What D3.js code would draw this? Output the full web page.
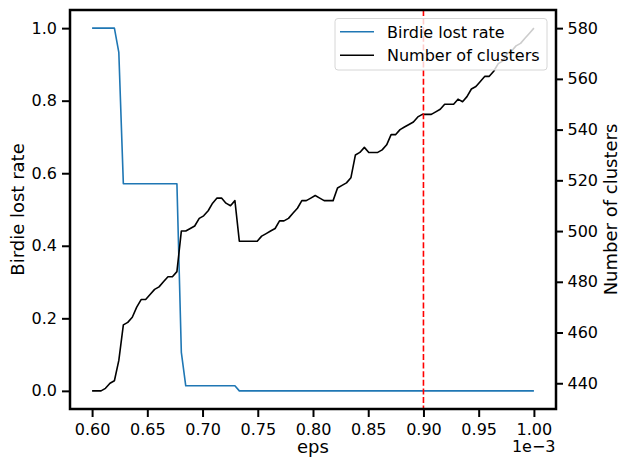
<!DOCTYPE html>
<html>
<head>
<meta charset="utf-8">
<script src="https://cdn.jsdelivr.net/npm/d3@7"></script>
<style>
  body { margin: 0; background: #fff; }
  text { font-family: "DejaVu Sans", sans-serif; fill: #000; }
</style>
</head>
<body>
<div id="chart"></div>
<script>
// eps values, in units of 1e-3
var eps = [
  0.6000, 0.6040, 0.6081, 0.6121, 0.6162, 0.6202, 0.6242, 0.6283, 0.6323, 0.6364,
  0.6404, 0.6444, 0.6485, 0.6525, 0.6566, 0.6606, 0.6646, 0.6687, 0.6727, 0.6768,
  0.6808, 0.6848, 0.6889, 0.6929, 0.6970, 0.7010, 0.7051, 0.7091, 0.7131, 0.7172,
  0.7212, 0.7253, 0.7293, 0.7333, 0.7374, 0.7414, 0.7455, 0.7495, 0.7535, 0.7576,
  0.7616, 0.7657, 0.7697, 0.7737, 0.7778, 0.7818, 0.7859, 0.7899, 0.7939, 0.7980,
  0.8020, 0.8061, 0.8101, 0.8141, 0.8182, 0.8222, 0.8263, 0.8303, 0.8343, 0.8384,
  0.8424, 0.8465, 0.8505, 0.8545, 0.8586, 0.8626, 0.8667, 0.8707, 0.8747, 0.8788,
  0.8828, 0.8869, 0.8909, 0.8949, 0.8990, 0.9030, 0.9071, 0.9111, 0.9152, 0.9192,
  0.9232, 0.9273, 0.9313, 0.9354, 0.9394, 0.9434, 0.9475, 0.9515, 0.9556, 0.9596,
  0.9636, 0.9677, 0.9717, 0.9758, 0.9798, 0.9838, 0.9879, 0.9919, 0.9960, 1.0000
]

var lostRate = [
  1, 1, 1, 1, 1, 1, 0.933, 0.571, 0.571, 0.571,
  0.571, 0.571, 0.571, 0.571, 0.571, 0.571, 0.571, 0.571, 0.571, 0.571,
  0.106, 0.014, 0.014, 0.014, 0.014, 0.014, 0.014, 0.014, 0.014, 0.014,
  0.014, 0.014, 0.014, 0, 0, 0, 0, 0, 0, 0,
  0, 0, 0, 0, 0, 0, 0, 0, 0, 0,
  0, 0, 0, 0, 0, 0, 0, 0, 0, 0,
  0, 0, 0, 0, 0, 0, 0, 0, 0, 0,
  0, 0, 0, 0, 0, 0, 0, 0, 0, 0,
  0, 0, 0, 0, 0, 0, 0, 0, 0, 0,
  0, 0, 0, 0, 0, 0, 0, 0, 0, 0
]

var clusters = [
  437, 437, 437, 438, 440, 441, 449, 463, 464, 466,
  470, 473, 473, 475, 477, 478, 480, 482, 482, 484,
  500, 500, 501, 502, 505, 506, 508, 511, 513, 513,
  511, 510, 512, 496, 496, 496, 496, 496, 498, 499,
  500, 501, 504, 504, 505, 507, 509, 512, 512, 513,
  514, 513, 512, 512, 512, 517, 518, 519, 521, 530,
  531, 533, 531, 531, 531, 532, 534, 538, 538, 540,
  541, 542, 543, 545, 546, 546, 546, 547, 548, 550,
  550, 550, 552, 551, 553, 556, 557, 559, 561, 561,
  563, 566, 567, 570, 571, 573, 574, 576, 578, 580
]

var xTicks = [0.60, 0.65, 0.70, 0.75, 0.80, 0.85, 0.90, 0.95, 1.00]
var leftTicks = [0.0, 0.2, 0.4, 0.6, 0.8, 1.0]
var rightTicks = [440, 460, 480, 500, 520, 540, 560, 580]
var chosenEps = 0.90
var legendNames = ["Birdie lost rate", "Number of clusters"]
var colors = ["#1f77b4", "#000000"]

// matplotlib style 5% margins around the data
function padded(ext) {
  var d = (ext[1] - ext[0]) * 0.05
  return [ext[0] - d, ext[1] + d]
}

const W = 620, H = 463
const box = { left: 70, right: 556, top: 10, bottom: 409 }

const svg = d3.select("#chart").append("svg")
  .attr("width", W)
  .attr("height", H)
  .style("font-size", "16px")

const x = d3.scaleLinear().domain(padded(d3.extent(eps))).range([box.left, box.right])
const yL = d3.scaleLinear().domain(padded([0, 1])).range([box.bottom, box.top])
const yR = d3.scaleLinear().domain(padded(d3.extent(clusters))).range([box.bottom, box.top])

// blue line
svg.append("path")
  .datum(lostRate)
  .attr("fill", "none")
  .attr("stroke", colors[0])
  .attr("stroke-width", 1.6)
  .attr("stroke-linejoin", "round")
  .attr("d", d3.line().x((d, i) => x(eps[i])).y(d => yL(d)))

// black line (twin axis)
svg.append("path")
  .datum(clusters)
  .attr("fill", "none")
  .attr("stroke", colors[1])
  .attr("stroke-width", 1.6)
  .attr("stroke-linejoin", "round")
  .attr("d", d3.line().x((d, i) => x(eps[i])).y(d => yR(d)))

// vertical marker
svg.append("line")
  .attr("x1", x(chosenEps)).attr("x2", x(chosenEps))
  .attr("y1", box.top).attr("y2", box.bottom)
  .attr("stroke", "#ff0000")
  .attr("stroke-width", 1.6)
  .attr("stroke-dasharray", "6,2.6")

// axes
function styleAxis(g) {
  g.select(".domain").remove()
  g.selectAll(".tick line").attr("stroke", "#000").attr("stroke-width", 2)
  g.selectAll(".tick text").style("font-size", "16px").attr("fill", "#000")
}

svg.append("g")
  .attr("transform", `translate(0,${box.bottom})`)
  .call(d3.axisBottom(x).tickValues(xTicks).tickFormat(d3.format(".2f")).tickSize(8).tickPadding(6.5))
  .call(styleAxis)

svg.append("g")
  .attr("transform", `translate(${box.left},0)`)
  .call(d3.axisLeft(yL).tickValues(leftTicks).tickFormat(d3.format(".1f")).tickSize(8).tickPadding(5))
  .call(styleAxis)

svg.append("g")
  .attr("transform", `translate(${box.right},0)`)
  .call(d3.axisRight(yR).tickValues(rightTicks).tickFormat(d3.format("d")).tickSize(7).tickPadding(4.5))
  .call(styleAxis)

// frame
svg.append("rect")
  .attr("x", box.left).attr("y", box.top)
  .attr("width", box.right - box.left).attr("height", box.bottom - box.top)
  .attr("fill", "none")
  .attr("stroke", "#000")
  .attr("stroke-width", 2.5)

// labels
svg.append("text")
  .attr("x", (box.left + box.right) / 2).attr("y", 452.5)
  .attr("text-anchor", "middle")
  .style("font-size", "18px")
  .text("eps")

svg.append("text")
  .attr("x", 555.5).attr("y", 452)
  .attr("text-anchor", "end")
  .text("1e\u22123")

svg.append("text")
  .attr("transform", `translate(24,${(box.top + box.bottom) / 2}) rotate(-90)`)
  .attr("text-anchor", "middle")
  .style("font-size", "18px")
  .text("Birdie lost rate")

svg.append("text")
  .attr("transform", `translate(617,${(box.top + box.bottom) / 2}) rotate(-90)`)
  .attr("text-anchor", "middle")
  .style("font-size", "18px")
  .text("Number of clusters")

// legend
const leg = svg.append("g")
leg.append("rect")
  .attr("x", 335).attr("y", 18.5)
  .attr("width", 212).attr("height", 51.5)
  .attr("rx", 3)
  .attr("fill", "#fff").attr("fill-opacity", 0.8)
  .attr("stroke", "#d6d6d6").attr("stroke-width", 1)

legendNames.forEach(function (name, i) {
  var cy = 31.7 + i * 23.5
  leg.append("line")
    .attr("x1", 340).attr("x2", 374)
    .attr("y1", cy).attr("y2", cy)
    .attr("stroke", colors[i]).attr("stroke-width", 1.6)
  leg.append("text")
    .attr("x", 387).attr("y", cy + 5.8)
    .text(name)
})
</script>
</body>
</html>
